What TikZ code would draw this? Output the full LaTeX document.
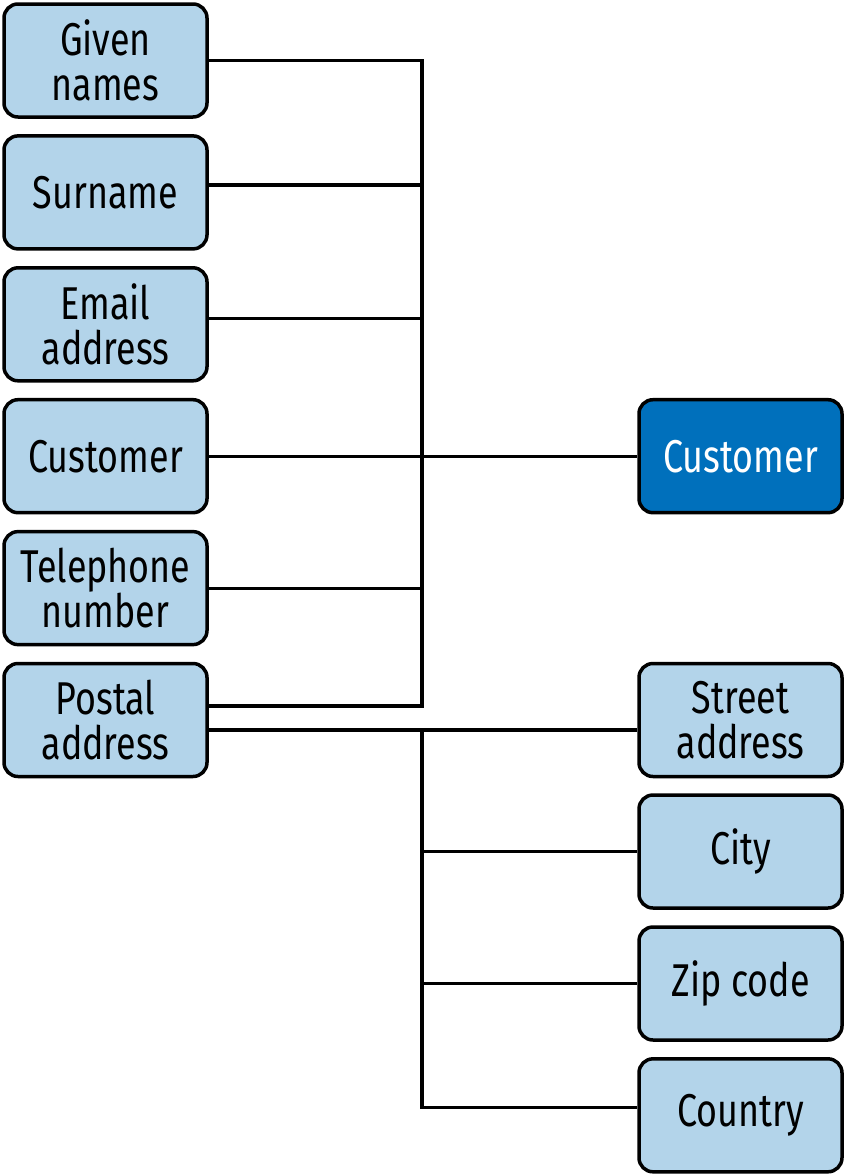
\documentclass[tikz,border=0pt]{standalone}
\usepackage{fontspec}
\setmainfont{Fira Sans}[FakeStretch=0.78]
\usepackage{xcolor}
\usepackage{tikz}
\usetikzlibrary{positioning}
\definecolor{fieldblue}{HTML}{B3D4EA}
\definecolor{entityblue}{HTML}{0070BC}
\tikzstyle{fieldnode} = [rectangle, draw, line width=3.5pt, rounded corners=14pt, fill=fieldblue, minimum width=203pt, minimum height=113pt, inner sep=0pt, align=center, font=\fontsize{46}{45}\selectfont]
\tikzstyle{entitynode} = [fieldnode, fill=entityblue, text=white]
\tikzstyle{link} = [draw, line width=3.2pt]

\begin{document}
\begin{tikzpicture}[x=1pt, y=-1pt]

\useasboundingbox (0,0) rectangle (846,1176);

\node [fieldnode] at (105.5,60.5) (given) {Given\\names};
\node [fieldnode] at (105.5,192.4) (surname) {Surname};
\node [fieldnode] at (105.5,324.3) (email) {Email\\address};
\node [fieldnode] at (105.5,456.2) (custfield) {Customer};
\node [fieldnode] at (105.5,588.1) (phone) {Telephone\\number};
\node [fieldnode] at (105.5,720) (postal) {Postal\\address};

\node [entitynode] at (740.5,456.2) (customer) {Customer};

\node [fieldnode] at (740.5,720) (street) {Street\\address};
\node [fieldnode] at (740.5,851.5) (city) {City};
\node [fieldnode] at (740.5,983.5) (zip) {Zip code};
\node [fieldnode] at (740.5,1115.3) (country) {Country};

\coordinate (upbus) at (422,456.2);
\coordinate (lowbus) at (422,730);

%% upper bus

\path [link] (given.east) -| (upbus);
\path [link] ([yshift=7.5pt]surname.east) -- ([yshift=7.5pt]surname.east -| upbus);
\path [link] ([yshift=6pt]email.east) -- ([yshift=6pt]email.east -| upbus);
\path [link] (custfield.east) -- (customer.west);
\path [link] (phone.east) -- (phone.east -| upbus);
\path [link] ([yshift=14pt]postal.east) -| (upbus);

%% lower bus

\path [link] ([yshift=-10pt]postal.east) -- ([yshift=-10pt]street.west);
\path [link] (city.west -| lowbus) -- (city.west);
\path [link] (zip.west -| lowbus) -- (zip.west);
\path [link] (lowbus) |- ([yshift=7.5pt]country.west);

\end{tikzpicture}
\end{document}
